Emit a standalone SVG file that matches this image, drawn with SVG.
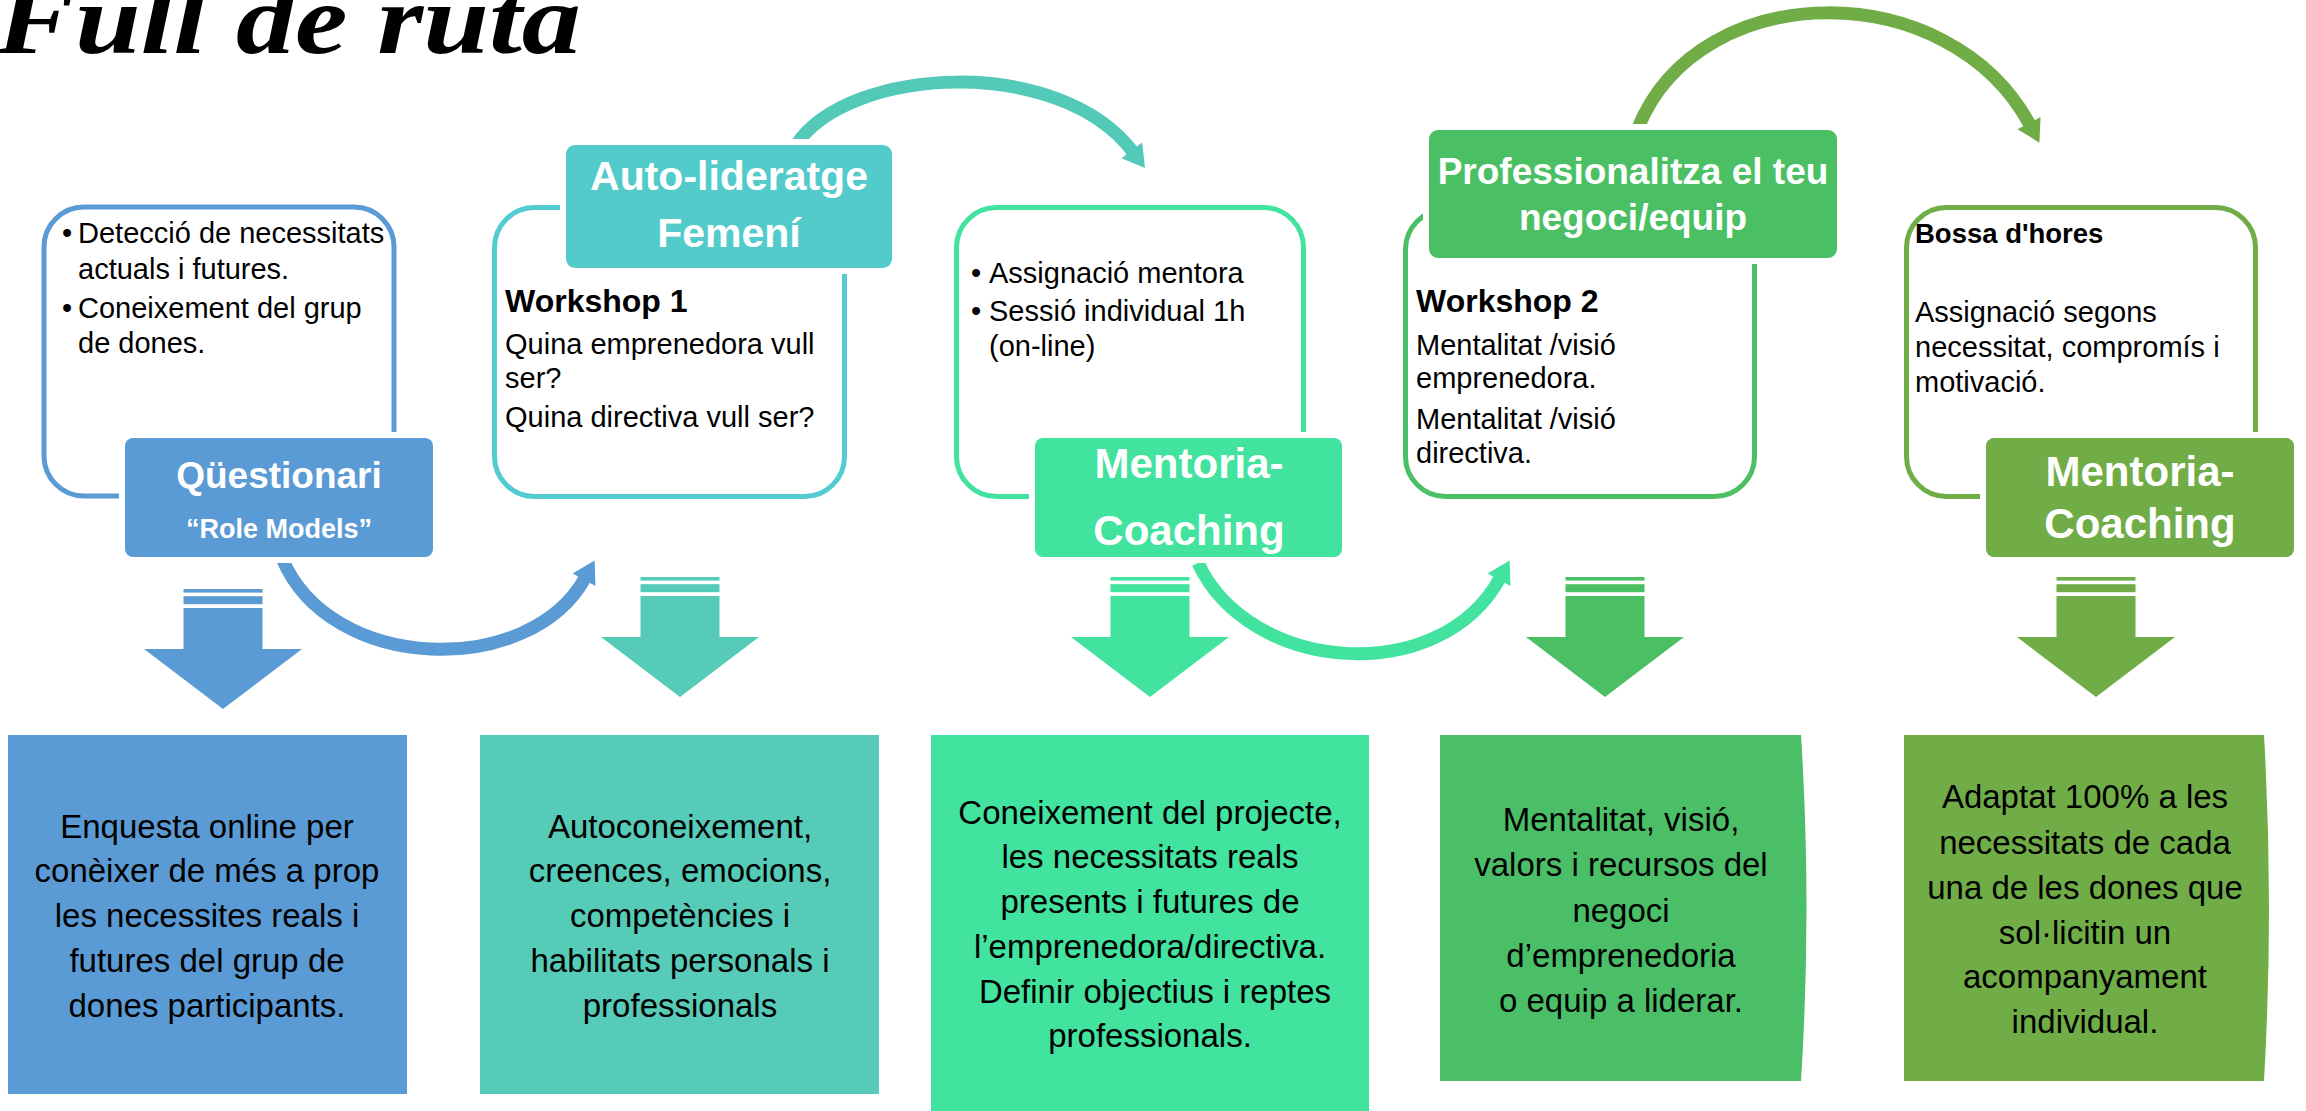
<svg xmlns="http://www.w3.org/2000/svg" width="2306" height="1111" viewBox="0 0 2306 1111">
<style>
.t{font-family:'Liberation Sans',Arial,sans-serif;fill:#000}
.s{font-size:29px}
.wk{font-size:32px;font-weight:bold}
.hw{font-family:'Liberation Sans',Arial,sans-serif;fill:#fff;font-weight:bold;text-anchor:middle}
.bt{font-family:'Liberation Sans',Arial,sans-serif;fill:#000;font-size:33px;text-anchor:middle}
.ol{fill:none;stroke-width:5}
.arc{fill:none;stroke-width:13}
.gap{fill:#fff}
.title{font-family:'Liberation Serif','DejaVu Serif',serif;font-weight:bold;font-style:italic;font-size:100px;fill:#000}
</style>
<defs>
<marker id="hBlue" markerUnits="userSpaceOnUse" markerWidth="30" markerHeight="30" refX="0" refY="0" orient="auto" style="overflow:visible"><path d="M-2,-13 L20,0 L-2,13 Z" fill="#5B9BD5"/></marker>
<marker id="hTeal" markerUnits="userSpaceOnUse" markerWidth="30" markerHeight="30" refX="0" refY="0" orient="auto" style="overflow:visible"><path d="M-2,-13 L20,0 L-2,13 Z" fill="#53C9B8"/></marker>
<marker id="hMint" markerUnits="userSpaceOnUse" markerWidth="30" markerHeight="30" refX="0" refY="0" orient="auto" style="overflow:visible"><path d="M-2,-13 L20,0 L-2,13 Z" fill="#42E29F"/></marker>
<marker id="hOlive" markerUnits="userSpaceOnUse" markerWidth="30" markerHeight="30" refX="0" refY="0" orient="auto" style="overflow:visible"><path d="M-2,-13 L20,0 L-2,13 Z" fill="#70AD47"/></marker>
<g id="down">
<rect x="-39.5" y="0" width="79" height="3.6"/>
<rect x="-39.5" y="7.2" width="79" height="8"/>
<path d="M-39.5,19 H39.5 V60 H79 L0,120 L-79,60 H-39.5 Z"/>
</g>
</defs>

<text class="title" x="-4" y="53" textLength="585" lengthAdjust="spacingAndGlyphs">Full de ruta</text>

<g id="connectors">
<path class="arc" stroke="#5B9BD5" stroke-width="12" d="M282,558 C330,674 530,678 585,578" marker-end="url(#hBlue)"/>
<path class="arc" stroke="#53C9B8" d="M796,145 C850,65 1060,55 1133,152" marker-end="url(#hTeal)"/>
<path class="arc" stroke="#42E29F" d="M1198,563 C1250,674 1440,688 1500,578" marker-end="url(#hMint)"/>
<path class="arc" stroke="#70AD47" d="M1638,128 C1700,-25 1950,-25 2030,125" marker-end="url(#hOlive)"/>
<use href="#down" x="223" y="589" fill="#5B9BD5"/>
<use href="#down" x="680" y="577" fill="#55CBB8"/>
<use href="#down" x="1150" y="577" fill="#42E29F"/>
<use href="#down" x="1605" y="577" fill="#4BBF63"/>
<use href="#down" x="2096" y="577" fill="#70AD47"/>
</g>

<g id="node-questionari">
<rect class="ol" stroke="#5B9BD5" x="44" y="207" width="350" height="289" rx="40"/>
<rect class="gap" x="119" y="432" width="320" height="131" rx="12"/>
<rect x="125" y="438" width="308" height="119" rx="8" fill="#5B9BD5"/>
<text class="hw" x="279" y="488" font-size="37">Qüestionari</text>
<text class="hw" x="279" y="538" font-size="27">“Role Models”</text>
<text class="t s"><tspan x="62" y="243">•</tspan><tspan x="78" y="243">Detecció de necessitats</tspan><tspan x="78" y="279">actuals i futures.</tspan><tspan x="62" y="318">•</tspan><tspan x="78" y="318">Coneixement del grup</tspan><tspan x="78" y="353">de dones.</tspan></text>
</g>

<g id="node-autolideratge">
<rect class="ol" stroke="#52CCD0" x="494.5" y="207.5" width="350" height="289" rx="40"/>
<rect class="gap" x="560" y="139" width="338" height="135" rx="12"/>
<rect x="566" y="145" width="326" height="123" rx="9" fill="#53CBCB"/>
<text class="hw" font-size="41"><tspan x="729" y="190">Auto-lideratge</tspan><tspan x="729" y="247">Femení</tspan></text>
<text class="t wk" x="505" y="312">Workshop 1</text>
<text class="t s"><tspan x="505" y="354">Quina emprenedora vull</tspan><tspan x="505" y="388">ser?</tspan><tspan x="505" y="427">Quina directiva vull ser?</tspan></text>
</g>

<g id="node-mentoria1">
<rect class="ol" stroke="#42E29F" x="956.5" y="207.5" width="347" height="289" rx="40"/>
<rect class="gap" x="1029" y="432" width="319" height="131" rx="12"/>
<rect x="1035" y="438" width="307" height="119" rx="8" fill="#42E29F"/>
<text class="hw" font-size="42"><tspan x="1189" y="478">Mentoria-</tspan><tspan x="1189" y="545">Coaching</tspan></text>
<text class="t s"><tspan x="971" y="283">•</tspan><tspan x="989" y="283">Assignació mentora</tspan><tspan x="971" y="321">•</tspan><tspan x="989" y="321">Sessió individual 1h</tspan><tspan x="989" y="356">(on-line)</tspan></text>
</g>

<g id="node-professionalitza">
<rect class="ol" stroke="#4BBF63" x="1405.5" y="209.5" width="349" height="287" rx="40"/>
<rect class="gap" x="1423" y="124" width="420" height="140" rx="12"/>
<rect x="1429" y="130" width="408" height="128" rx="9" fill="#4BBF63"/>
<text class="hw" font-size="37"><tspan x="1633" y="184">Professionalitza el teu</tspan><tspan x="1633" y="230">negoci/equip</tspan></text>
<text class="t wk" x="1416" y="312">Workshop 2</text>
<text class="t s"><tspan x="1416" y="355">Mentalitat /visió</tspan><tspan x="1416" y="388">emprenedora.</tspan><tspan x="1416" y="429">Mentalitat /visió</tspan><tspan x="1416" y="463">directiva.</tspan></text>
</g>

<g id="node-mentoria2">
<rect class="ol" stroke="#70AD47" x="1906.5" y="207.5" width="349" height="289" rx="40"/>
<rect class="gap" x="1980" y="432" width="320" height="131" rx="12"/>
<rect x="1986" y="438" width="308" height="119" rx="8" fill="#70AD47"/>
<text class="hw" font-size="42"><tspan x="2140" y="486">Mentoria-</tspan><tspan x="2140" y="538">Coaching</tspan></text>
<text class="t" x="1915" y="243" font-size="27.5" font-weight="bold">Bossa d'hores</text>
<text class="t s"><tspan x="1915" y="322">Assignació segons</tspan><tspan x="1915" y="357">necessitat, compromís i</tspan><tspan x="1915" y="392">motivació.</tspan></text>
</g>

<g id="result-1">
<rect x="8" y="735" width="399" height="359" fill="#5B9BD5"/>
<text class="bt"><tspan x="207" y="838">Enquesta online per</tspan><tspan x="207" y="882">conèixer de més a prop</tspan><tspan x="207" y="927">les necessites reals i</tspan><tspan x="207" y="972">futures del grup de</tspan><tspan x="207" y="1017">dones participants.</tspan></text>
</g>

<g id="result-2">
<rect x="480" y="735" width="399" height="359" fill="#55CBB8"/>
<text class="bt"><tspan x="680" y="838">Autoconeixement,</tspan><tspan x="680" y="882">creences, emocions,</tspan><tspan x="680" y="927">competències i</tspan><tspan x="680" y="972">habilitats personals i</tspan><tspan x="680" y="1017">professionals</tspan></text>
</g>

<g id="result-3">
<rect x="931" y="735" width="438" height="376" fill="#42E29F"/>
<text class="bt"><tspan x="1150" y="824">Coneixement del projecte,</tspan><tspan x="1150" y="868">les necessitats reals</tspan><tspan x="1150" y="913">presents i futures de</tspan><tspan x="1150" y="958">l’emprenedora/directiva.</tspan><tspan x="1155" y="1003">Definir objectius i reptes</tspan><tspan x="1150" y="1047">professionals.</tspan></text>
</g>

<g id="result-4">
<path d="M1440,735 L1801,735 Q1812,908 1801,1081 L1440,1081 Z" fill="#4BBF67"/>
<text class="bt"><tspan x="1621" y="831">Mentalitat, visió,</tspan><tspan x="1621" y="876">valors i recursos del</tspan><tspan x="1621" y="922">negoci</tspan><tspan x="1621" y="967">d’emprenedoria</tspan><tspan x="1621" y="1012">o equip a liderar.</tspan></text>
</g>

<g id="result-5">
<path d="M1904,735 L2264,735 Q2274,908 2264,1081 L1904,1081 Z" fill="#70AD47"/>
<text class="bt"><tspan x="2085" y="808">Adaptat 100% a les</tspan><tspan x="2085" y="854">necessitats de cada</tspan><tspan x="2085" y="899">una de les dones que</tspan><tspan x="2085" y="944">sol·licitin un</tspan><tspan x="2085" y="988">acompanyament</tspan><tspan x="2085" y="1033">individual.</tspan></text>
</g>
</svg>
